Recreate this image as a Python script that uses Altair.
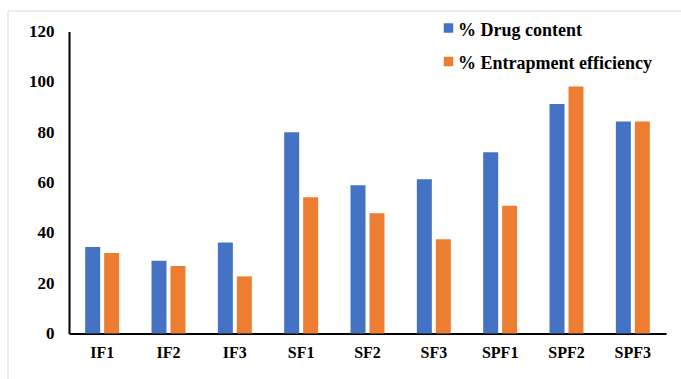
import altair as alt
import pandas as pd

# Formulations and measured percentages
formulations = ["IF1", "IF2", "IF3", "SF1", "SF2", "SF3", "SPF1", "SPF2", "SPF3"]
drug_content = [34.4, 28.9, 36.2, 80.0, 58.9, 61.3, 72.0, 91.2, 84.2]
entrapment_efficiency = [32.0, 26.8, 22.7, 54.1, 47.8, 37.5, 50.8, 98.1, 84.2]
series_names = ["% Drug content", "% Entrapment efficiency"]
series_colors = ["#4472C4", "#ED7D31"]
y_ticks = [0, 20, 40, 60, 80, 100, 120]

rows = []
for f, d, e in zip(formulations, drug_content, entrapment_efficiency):
    rows.append({"Formulation": f, "Series": series_names[0], "Value": d})
    rows.append({"Formulation": f, "Series": series_names[1], "Value": e})
df = pd.DataFrame(rows)
legend_df = pd.DataFrame({"Series": series_names})

FONT = "Liberation Serif"
color_scale = alt.Scale(domain=series_names, range=series_colors)

bars = alt.Chart(df).mark_bar().encode(
    x=alt.X(
        "Formulation:N",
        sort=formulations,
        scale=alt.Scale(paddingInner=0.488, paddingOuter=0.244),
        axis=alt.Axis(
            title=None, labelAngle=0, ticks=False, grid=False,
            domainColor="black", domainWidth=2,
            labelFont=FONT, labelFontWeight="bold", labelFontSize=16,
            labelColor="black", labelPadding=11,
        ),
    ),
    xOffset=alt.XOffset("Series:N", sort=series_names,
                        scale=alt.Scale(paddingInner=0.21)),
    y=alt.Y(
        "Value:Q",
        scale=alt.Scale(domain=[0, 120], nice=False),
        axis=alt.Axis(
            title=None, values=y_ticks, ticks=False, grid=False,
            domainColor="black", domainWidth=2,
            labelFont=FONT, labelFontWeight="bold", labelFontSize=17,
            labelColor="black", labelPadding=15,
        ),
    ),
    color=alt.Color("Series:N", scale=color_scale, legend=None),
)

# Legend drawn as squares plus serif labels, one row per series
legend_y = alt.Y("Series:N", sort=series_names, axis=None,
                 scale=alt.Scale(domain=series_names, range=[-3.5, 30],
                                 padding=0))

legend_marks = alt.Chart(legend_df).mark_square(size=90, opacity=1).encode(
    x=alt.value(379.5),
    y=legend_y,
    color=alt.Color("Series:N", scale=color_scale, legend=None),
)

legend_text = alt.Chart(legend_df).mark_text(
    align="left", baseline="alphabetic", dy=7.5,
    font=FONT, fontWeight="bold", fontSize=18, color="black",
).encode(
    x=alt.value(389),
    y=legend_y,
    text="Series:N",
)

# Light outer frame around the figure
frame = alt.Chart(pd.DataFrame({"k": [0]})).mark_rect(
    fill=None, stroke="#d9d9d9", strokeWidth=1
).encode(
    x=alt.value(-61), x2=alt.value(630),
    y=alt.value(-20.5), y2=alt.value(360),
)

legend = alt.layer(legend_marks, legend_text)

chart = alt.layer(frame, bars, legend).resolve_scale(
    y="independent"
).properties(
    width=597,
    height=302,
    padding={"left": 69, "top": 31.5, "right": 15, "bottom": 45.5},
    autosize=alt.AutoSizeParams(type="none"),
    background="white",
).configure_view(stroke=None)

chart.save("out.html", embed_options={"renderer": "svg", "actions": False})
